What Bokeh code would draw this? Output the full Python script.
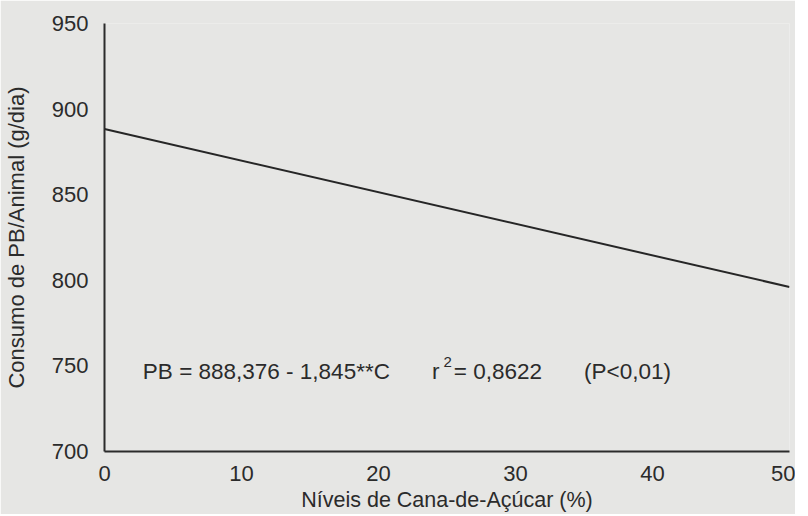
from bokeh.plotting import figure
from bokeh.models import Range1d, FixedTicker, Label, ColumnDataSource
from bokeh.embed import file_html
from bokeh.resources import INLINE

# Data
level = [0, 50]            # Níveis de Cana-de-Açúcar (%)
pb = [888.4, 796.1]        # Consumo de PB/Animal (g/dia)
x_ticks = [0, 10, 20, 30, 40, 50]
y_ticks = [700, 750, 800, 850, 900, 950]

equation = "PB = 888,376 - 1,845**C"
r2_text = "= 0,8622"
p_text = "(P<0,01)"

BG = "#e6e6e4"
INK = "#2b2b2b"
FONT = "Liberation Sans"

p = figure(frame_width=685, frame_height=428, output_backend="svg", toolbar_location=None,
           x_range=Range1d(0, 50), y_range=Range1d(700, 950),
           min_border_left=101, min_border_right=6, min_border_top=23, min_border_bottom=49)
p.background_fill_color = BG
p.border_fill_color = BG
p.outline_line_color = None
p.grid.visible = False

src = ColumnDataSource(dict(x=level, y=pb))
p.line("x", "y", source=src, line_color="#262626", line_width=2)

for ax in (p.xaxis[0], p.yaxis[0]):
    ax.major_tick_line_color = None
    ax.minor_tick_line_color = None
    ax.axis_line_color = INK
    ax.axis_line_width = 2
    ax.major_label_text_font = FONT
    ax.major_label_text_font_size = "22px"
    ax.major_label_text_color = INK
    ax.axis_label_text_font = FONT
    ax.axis_label_text_font_style = "normal"
    ax.axis_label_text_color = INK

p.xaxis.ticker = FixedTicker(ticks=x_ticks)
p.yaxis.ticker = FixedTicker(ticks=y_ticks)
p.xaxis.major_label_standoff = 8
p.yaxis.major_label_standoff = 10
p.xaxis.axis_label = "Níveis de Cana-de-Açúcar (%)"
p.yaxis.axis_label = "Consumo de PB/Animal (g/dia)"
p.xaxis.axis_label_text_font_size = "21.5px"
p.yaxis.axis_label_text_font_size = "22px"
p.xaxis.axis_label_standoff = 4
p.yaxis.axis_label_standoff = 20

common = dict(text_font=FONT, text_color=INK, text_baseline="middle")
p.add_layout(Label(x=2.8, y=746.7, text=equation, text_font_size="22.5px", **common))
p.add_layout(Label(x=23.9, y=746.7, text="r", text_font_size="22.5px", **common))
p.add_layout(Label(x=24.75, y=752.5, text="2", text_font_size="15px", **common))
p.add_layout(Label(x=25.5, y=746.7, text=r2_text, text_font_size="22.5px", **common))
p.add_layout(Label(x=35.0, y=746.7, text=p_text, text_font_size="22.5px", **common))

open("out.html", "w").write(file_html(p, INLINE))
